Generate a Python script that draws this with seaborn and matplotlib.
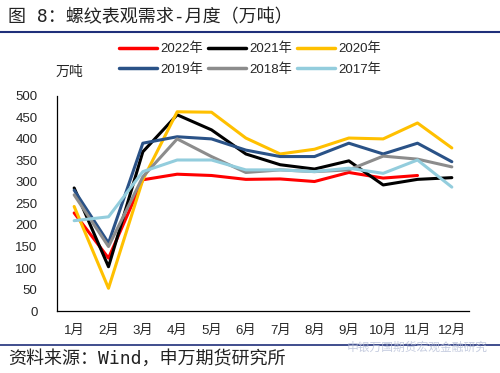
import matplotlib
matplotlib.use("Agg")
import matplotlib.pyplot as plt
import numpy as np
import pandas as pd
import seaborn as sns

# 螺纹表观需求（万吨），按月
months = ['1月', '2月', '3月', '4月', '5月', '6月', '7月', '8月', '9月', '10月', '11月', '12月']
y2022 = [228, 123, 305, 318, 315, 306, 307, 301, 322, 309, 315, np.nan]
y2021 = [286, 103, 370, 456, 421, 365, 340, 330, 349, 293, 306, 310]
y2020 = [243, 53, 305, 463, 462, 402, 365, 376, 402, 400, 437, 379]
y2019 = [281, 158, 390, 405, 400, 374, 359, 359, 390, 365, 390, 347]
y2018 = [270, 150, 312, 400, 359, 322, 328, 324, 328, 360, 353, 335]
y2017 = [210, 219, 324, 351, 351, 328, 328, 324, 332, 320, 351, 288]

years = ['2022年', '2021年', '2020年', '2019年', '2018年', '2017年']
colors = ['#FF0000', '#000000', '#FFC000', '#2A5287', '#8C8C8C', '#93CDDD']
series = [y2022, y2021, y2020, y2019, y2018, y2017]

df = pd.DataFrame({
    'month': np.tile(np.arange(12), len(years)),
    'value': np.concatenate(series),
    'year': np.repeat(years, 12),
})

sns.set_style("white")
plt.rcParams['font.family'] = ['Liberation Sans', 'Noto Sans CJK SC', 'DejaVu Sans']
mono = ['DejaVu Sans Mono', 'Noto Sans CJK SC']

fig = plt.figure(figsize=(5, 3.73), dpi=100)
ax = fig.add_axes([0.114, 0.166, 0.824, 0.577])

sns.lineplot(data=df, x='month', y='value', hue='year', hue_order=years,
             palette=colors, linewidth=2.2, ax=ax, legend=True)

ax.set_xlim(-0.5, 11.5)
ax.set_ylim(0, 500)
ax.set_yticks(range(0, 501, 50))
ax.set_xticks(range(12))
ax.set_xticklabels(months)
ax.set_xticks(np.arange(-0.5, 12, 1), minor=True)
ax.tick_params(axis='x', which='major', length=0, pad=10, labelsize=9.5)
ax.tick_params(axis='x', which='minor', direction='in', length=4, width=0.8, color='black')
ax.tick_params(axis='y', direction='in', length=4, width=0.8, color='black', pad=14, labelsize=9.5)
ax.set_xlabel('')
ax.set_ylabel('')
for side in ['top', 'right']:
    ax.spines[side].set_visible(False)
for side in ['left', 'bottom']:
    ax.spines[side].set_color('black')
    ax.spines[side].set_linewidth(0.9)

handles, labels = ax.get_legend_handles_labels()
ax.get_legend().remove()
order = [0, 3, 1, 4, 2, 5]
leg = fig.legend([handles[i] for i in order], [labels[i] for i in order],
                 ncol=3, loc='center', bbox_to_anchor=(0.5, 0.841),
                 frameon=False, fontsize=9.5, handlelength=2.9,
                 handletextpad=0.2, columnspacing=0.4, labelspacing=0.6)
for line in leg.get_lines():
    line.set_linewidth(2.5)

fig.text(0.112, 0.806, '万吨', fontsize=10, ha='left', va='center')

fig.text(0.016, 0.955, '图 8：螺纹表观需求-月度（万吨）', fontsize=13, ha='left',
         va='center', color='#222222', family=mono)
fig.add_artist(plt.Line2D([0, 1], [0.915, 0.915], color='#1F2F7A', linewidth=1.5))
fig.add_artist(plt.Line2D([0, 1], [0.075, 0.075], color='#1F2F7A', linewidth=1.2))
fig.text(0.016, 0.038, '资料来源：Wind，申万期货研究所', fontsize=13, ha='left',
         va='center', color='#222222', family=mono)
fig.text(0.975, 0.068, '申银万国期货宏观金融研究', fontsize=8.5, ha='right',
         va='center', color='#B8C0D8', alpha=0.8)

fig.savefig('out.png', dpi=100)
